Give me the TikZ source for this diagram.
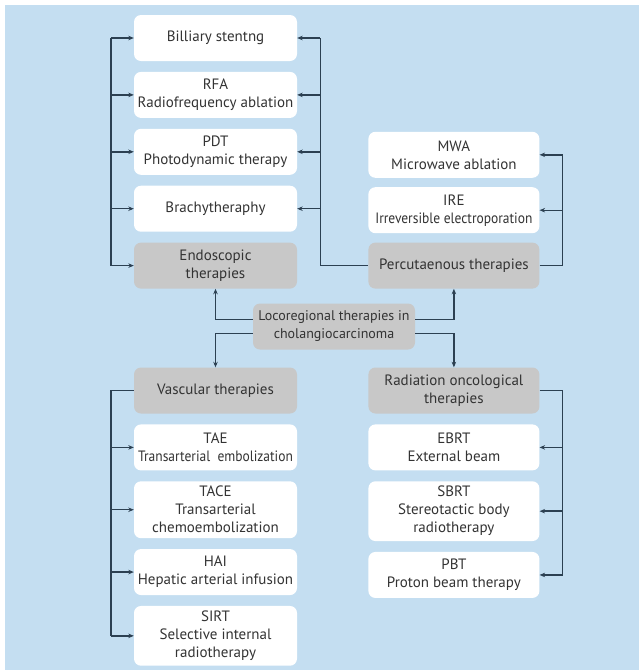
\documentclass[tikz,border=0pt]{standalone}
\usepackage{fontspec}
\setmainfont{PT Sans}
\newfontfamily\narrowfont{PT Sans}[FakeStretch=0.9]
\usetikzlibrary{positioning, arrows.meta}
\definecolor{bgblue}{HTML}{C4DEF1}
\definecolor{boxgray}{HTML}{C8C8C8}
\definecolor{linedark}{HTML}{2C4052}
\definecolor{txtgray}{HTML}{333333}
\tikzset{
  x=1pt, y=-1pt,
  node distance=10.5pt,
  therapy/.style={rectangle, rounded corners=7pt, fill=white, minimum height=46pt,
    inner xsep=2pt, inner ysep=5pt, align=center, text=txtgray, font=\fontsize{15}{18}\selectfont},
  family/.style={therapy, fill=boxgray},
  lcol/.style={minimum width=163pt},
  rcol/.style={minimum width=171pt},
  link/.style={draw=linedark, line width=1.4pt},
  arr/.style={link, -{Stealth[length=5.5pt, width=4.5pt]}},
}

\begin{document}
\begin{tikzpicture}
		% background
		\fill[bgblue] (5,5) rectangle (639,670);
		\useasboundingbox (0,0) rectangle (639,670);

		% endoscopic therapies
		\node[therapy, lcol] (bil) at (215.5,38) {Billiary stentng};
		\node[therapy, lcol, below=of bil] (rfa) {RFA\\Radiofrequency ablation};
		\node[therapy, lcol, below=of rfa] (pdt) {PDT\\Photodynamic therapy};
		\node[therapy, lcol, below=of pdt] (brachy) {Brachytheraphy};
		\node[family, lcol, below=of brachy] (endo) {Endoscopic\\therapies};

		% percutaenous therapies
		\node[family, rcol, right=71pt of endo] (perc) {Percutaenous therapies};
		\node[therapy, rcol, above=9pt of perc] (ire) {IRE\\{\narrowfont Irreversible electroporation}};
		\node[therapy, rcol, above=9pt of ire] (mwa) {MWA\\Microwave ablation};

		% root
		\node[family, minimum width=162pt, font=\fontsize{14}{18}\selectfont] (loco) at (334,326.5) {Locoregional therapies in\\cholangiocarcinoma};

		% vascular therapies
		\node[family, lcol] (vasc) at (215.5,390.5) {Vascular therapies};
		\node[therapy, lcol, below=of vasc] (tae) {TAE\\{\narrowfont Transarterial\ \ embolization}};
		\node[therapy, lcol, below=of tae] (tace) {TACE\\Transarterial\\chemoembolization};
		\node[therapy, lcol, below=of tace] (hai) {HAI\\Hepatic arterial infusion};
		\node[therapy, lcol, below=of hai] (sirt) {SIRT\\Selective internal\\radiotherapy};

		% radiation oncological therapies
		\node[family, rcol, right=71pt of vasc] (rad) {Radiation oncological\\therapies};
		\node[therapy, rcol, below=of rad] (ebrt) {EBRT\\External beam};
		\node[therapy, rcol, below=of ebrt] (sbrt) {SBRT\\Stereotactic body\\radiotherapy};
		\node[therapy, rcol, below=of sbrt] (pbt) {PBT\\Proton beam therapy};

		% root links
		\draw[arr] ([yshift=7pt]loco.west) -| (endo.south);
		\draw[arr] ([yshift=-7pt]loco.west) -| (vasc.north);
		\draw[arr] ([yshift=7pt]loco.east) -| (perc.south);
		\draw[arr] ([yshift=-7pt]loco.east) -| (rad.north);

		% buses
		\draw[link] ([xshift=-23pt]bil.west) -- ([xshift=-23pt]endo.west);
		\foreach \n in {bil, rfa, pdt, brachy, endo}
			\draw[arr] ([xshift=-23pt]\n.west) -- (\n.west);
		\draw[link] (perc.west) -| ([xshift=23pt]bil.east);
		\foreach \n in {bil, rfa, pdt, brachy}
			\draw[arr] ([xshift=23pt]\n.east) -- (\n.east);
		\draw[link] (perc.east) -| ([xshift=23pt]mwa.east);
		\foreach \n in {mwa, ire}
			\draw[arr] ([xshift=23pt]\n.east) -- (\n.east);
		\draw[link] (vasc.west) -| ([xshift=-23pt]sirt.west);
		\foreach \n in {tae, tace, hai, sirt}
			\draw[arr] ([xshift=-23pt]\n.west) -- (\n.west);
		\draw[link] (rad.east) -| ([xshift=23pt]pbt.east);
		\foreach \n in {ebrt, sbrt, pbt}
			\draw[arr] ([xshift=23pt]\n.east) -- (\n.east);

	\end{tikzpicture}
\end{document}
